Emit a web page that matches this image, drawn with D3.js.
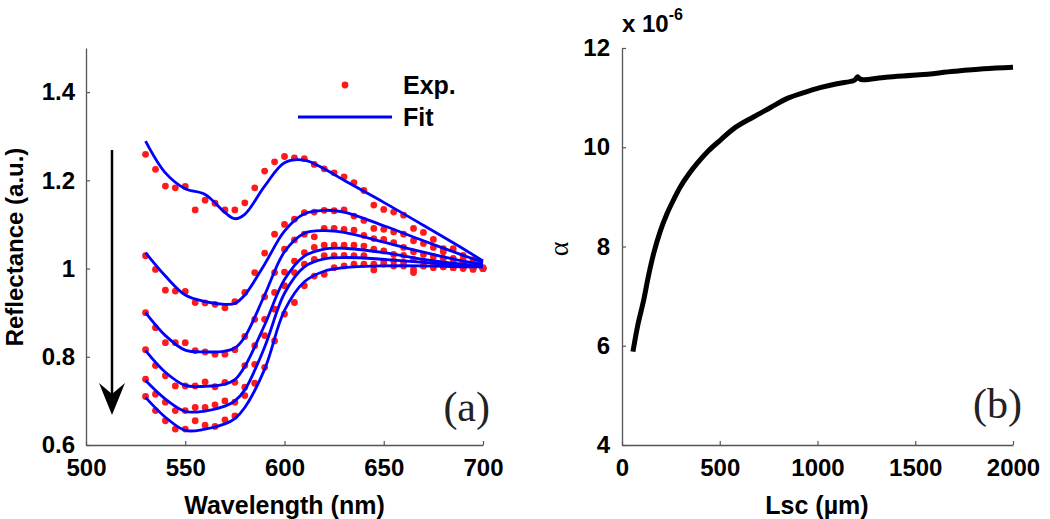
<!DOCTYPE html>
<html>
<head>
<meta charset="utf-8">
<script src="https://cdn.jsdelivr.net/npm/d3@7"></script>
<style>
html,body{margin:0;padding:0;background:#fff;}
svg{display:block;}
</style>
</head>
<body>
<svg id="chart" width="1050" height="519"></svg>
<script>
// ---------- Panel (a) data ----------
const wavelengths = [530,535,540,545,550,555,560,565,570,575,580,585,590,595,600,605,610,615,620,625,630,635,640,645,650,655,660,665,670,675,680,685,690,695,700];
const exp1 = [1.259,1.225,1.187,1.183,1.186,1.133,1.155,1.148,1.133,1.133,1.149,1.183,1.221,1.242,1.254,1.251,1.249,1.236,1.226,1.217,1.208,1.195,1.177,1.144,1.134,1.128,1.121,1.091,1.082,1.066,1.045,1.045,1.030,1.020,1.000];
const exp2 = [1.029,0.998,0.951,0.949,0.948,0.923,0.922,0.919,0.911,0.925,0.946,0.991,1.035,1.078,1.100,1.112,1.127,1.128,1.132,1.131,1.133,1.119,1.109,1.091,1.089,1.083,1.078,1.063,1.057,1.048,1.038,1.023,1.020,1.010,1.002];
const exp3 = [0.900,0.866,0.832,0.832,0.832,0.814,0.811,0.806,0.806,0.816,0.846,0.885,0.936,0.991,1.044,1.065,1.078,1.072,1.091,1.091,1.089,1.087,1.075,1.068,1.066,1.059,1.048,1.038,1.032,1.027,1.023,1.014,1.014,1.006,1.000];
const exp4 = [0.816,0.780,0.757,0.734,0.734,0.734,0.743,0.732,0.742,0.742,0.780,0.825,0.885,0.946,0.992,1.017,1.036,1.048,1.053,1.053,1.053,1.053,1.051,1.044,1.040,1.032,1.030,1.021,1.017,1.014,1.010,1.006,1.006,1.002,1.000];
const exp5 = [0.749,0.715,0.697,0.678,0.678,0.685,0.685,0.691,0.700,0.697,0.731,0.783,0.848,0.908,0.961,0.991,1.010,1.021,1.029,1.029,1.030,1.029,1.029,0.997,1.017,1.017,1.014,0.998,1.006,1.006,1.004,1.002,1.002,1.000,1.000];
const exp6 = [0.710,0.678,0.655,0.636,0.636,0.655,0.645,0.642,0.657,0.666,0.712,0.740,0.776,0.836,0.897,0.923,0.961,0.983,0.987,1.002,1.006,1.010,1.010,1.010,1.010,1.006,1.006,0.991,1.006,1.002,1.004,1.002,1.000,0.998,1.000];

const fitWavelengths = [530,540,550,560,570,575,580,590,600,610,620,630,650,670,690,700];
const fit1 = [1.289,1.217,1.181,1.168,1.127,1.113,1.123,1.187,1.240,1.246,1.226,1.200,1.150,1.098,1.045,1.017];
const fit2 = [1.036,0.983,0.940,0.925,0.919,0.921,0.940,1.010,1.085,1.124,1.132,1.128,1.097,1.063,1.030,1.014];
const fit3 = [0.900,0.848,0.815,0.811,0.813,0.820,0.845,0.940,1.038,1.080,1.086,1.082,1.060,1.037,1.017,1.010];
const fit4 = [0.814,0.765,0.735,0.733,0.738,0.748,0.778,0.872,0.975,1.028,1.044,1.046,1.036,1.021,1.010,1.006];
const fit5 = [0.746,0.704,0.676,0.677,0.688,0.700,0.725,0.822,0.944,1.004,1.022,1.025,1.021,1.014,1.006,1.004];
const fit6 = [0.708,0.663,0.633,0.636,0.648,0.660,0.685,0.772,0.905,0.970,0.994,1.002,1.006,1.006,1.004,1.004];

const xTicksA = [500,550,600,650,700];
const yTicksA = [0.6,0.8,1.0,1.2,1.4];

// ---------- Panel (b) data ----------
const lscVals   = [56,80,111,135,162,195,230,265,298,340,383,440,502,580,672,760,843,930,1013,1100,1183,1195,1205,1215,1234,1350,1523,1700,1850,2000];
const alphaVals = [5.88,6.40,6.92,7.40,7.86,8.30,8.66,8.95,9.20,9.45,9.67,9.92,10.14,10.40,10.61,10.80,10.98,11.10,11.20,11.28,11.34,11.37,11.42,11.38,11.36,11.41,11.46,11.53,11.58,11.61];
const xTicksB = [0,500,1000,1500,2000];
const yTicksB = [4,6,8,10,12];

const svg = d3.select("#chart");
const sans = '"Liberation Sans", Arial, sans-serif';
const serif = '"Liberation Serif", "DejaVu Serif", serif';

function styleAxis(g){
  g.attr("font-family",null).attr("font-size",null);
  g.select(".domain").attr("stroke","#555").attr("stroke-width",1.3);
  g.selectAll(".tick line").attr("stroke","#555").attr("stroke-width",1.2);
  g.selectAll(".tick text")
    .style("font-family",sans).style("font-weight","bold").style("font-size","24px").attr("fill","#000");
}

// ===== Panel (a) =====
const xA = d3.scaleLinear().domain([500,700]).range([86,483]);
const yA = d3.scaleLinear().domain([0.6,1.5]).range([445,48]);

const gxA = svg.append("g").attr("transform","translate(0,445)")
  .call(d3.axisBottom(xA).tickValues(xTicksA).tickSize(-4).tickPadding(12).tickSizeOuter(0));
styleAxis(gxA);
gxA.selectAll(".tick text").attr("dy","0.8em");
const gyA = svg.append("g").attr("transform","translate(86,0)")
  .call(d3.axisLeft(yA).tickValues(yTicksA).tickSize(-4).tickPadding(11).tickSizeOuter(0)
        .tickFormat(d => d === 1 ? "1" : d3.format(".1f")(d)));
styleAxis(gyA);

const expSeries = [exp1,exp2,exp3,exp4,exp5,exp6];
const fitSeries = [fit1,fit2,fit3,fit4,fit5,fit6];

const dotsG = svg.append("g");
expSeries.forEach(s => {
  dotsG.selectAll(null).data(s).enter().append("circle")
    .attr("cx",(d,i)=>xA(wavelengths[i])).attr("cy",d=>yA(d))
    .attr("r",3.4).attr("fill","#ff1a1a");
});
const lineA = d3.line().x((d,i)=>xA(fitWavelengths[i])).y(d=>yA(d)).curve(d3.curveCatmullRom.alpha(0.5));
fitSeries.forEach(s => {
  svg.append("path").datum(s).attr("d",lineA).attr("fill","none")
    .attr("stroke","#0000ff").attr("stroke-width",2.8).attr("stroke-linejoin","round");
});

// legend
svg.append("circle").attr("cx",345).attr("cy",85).attr("r",3.4).attr("fill","#ff1a1a");
svg.append("line").attr("x1",298).attr("x2",392).attr("y1",117).attr("y2",117)
  .attr("stroke","#0000ff").attr("stroke-width",2.8);
svg.append("text").attr("x",403).attr("y",94).text("Exp.")
  .attr("font-family",sans).attr("font-weight","bold").attr("font-size",25);
svg.append("text").attr("x",403).attr("y",126).text("Fit")
  .attr("font-family",sans).attr("font-weight","bold").attr("font-size",25);

// arrow
svg.append("line").attr("x1",112).attr("x2",112).attr("y1",150).attr("y2",398)
  .attr("stroke","#000").attr("stroke-width",2.5);
svg.append("path").attr("d","M112,415 L99,383 L112,394 L125,383 Z").attr("fill","#000");

// axis titles
svg.append("text").attr("x",284.5).attr("y",514).attr("text-anchor","middle")
  .attr("font-family",sans).attr("font-weight","bold").attr("font-size",25).text("Wavelength (nm)");
svg.append("text").attr("transform","translate(23,247) rotate(-90)").attr("text-anchor","middle")
  .attr("font-family",sans).attr("font-weight","bold").attr("font-size",24).text("Reflectance (a.u.)");
svg.append("text").attr("x",490).attr("y",421).attr("text-anchor","end")
  .attr("font-family",serif).attr("font-size",42).attr("fill","#222").text("(a)");

// ===== Panel (b) =====
const xB = d3.scaleLinear().domain([0,2000]).range([622,1013]);
const yB = d3.scaleLinear().domain([4,12]).range([445,48]);

const gxB = svg.append("g").attr("transform","translate(0,445)")
  .call(d3.axisBottom(xB).tickValues(xTicksB).tickSize(-4).tickPadding(12).tickSizeOuter(0)
        .tickFormat(d3.format("d")));
styleAxis(gxB);
gxB.selectAll(".tick text").attr("dy","0.8em");
const gyB = svg.append("g").attr("transform","translate(622,0)")
  .call(d3.axisLeft(yB).tickValues(yTicksB).tickSize(-4).tickPadding(12).tickSizeOuter(0)
        .tickFormat(d3.format("d")));
styleAxis(gyB);

const lineB = d3.line().x((d,i)=>xB(lscVals[i])).y(d=>yB(d)).curve(d3.curveCatmullRom.alpha(0.5));
svg.append("path").datum(alphaVals).attr("d",lineB).attr("fill","none")
  .attr("stroke","#000").attr("stroke-width",5).attr("stroke-linecap","butt");

// exponent label
const expT = svg.append("text").attr("x",622).attr("y",32)
  .attr("font-family",sans).attr("font-weight","bold").attr("font-size",24);
expT.append("tspan").text("x 10");
expT.append("tspan").attr("dy",-12).attr("font-size",16).text("-6");

svg.append("text").attr("x",817).attr("y",514).attr("text-anchor","middle")
  .attr("font-family",sans).attr("font-weight","bold").attr("font-size",25).text("Lsc (\u00b5m)");
svg.append("text").attr("transform","translate(568,249) rotate(-90)").attr("text-anchor","middle")
  .attr("font-family",serif).attr("font-size",28).text("\u03b1");
svg.append("text").attr("x",1022).attr("y",418).attr("text-anchor","end")
  .attr("font-family",serif).attr("font-size",42).attr("fill","#222").text("(b)");
</script>
</body>
</html>
